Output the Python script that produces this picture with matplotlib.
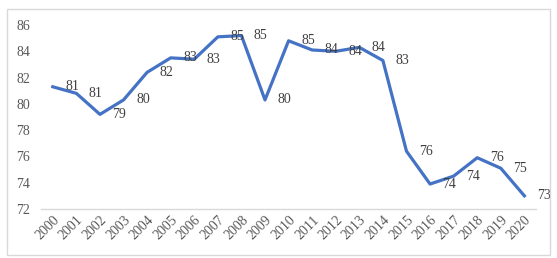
import matplotlib.pyplot as plt
from matplotlib.patches import Rectangle

years = [str(y) for y in range(2000, 2021)]
values = [81.3, 80.8, 79.2, 80.3, 82.4, 83.5, 83.4, 85.1, 85.2, 80.3,
          84.8, 84.1, 84.0, 84.3, 83.3, 76.4, 73.9, 74.5, 75.9, 75.1, 73.0]
labels = ['81', '81', '79', '80', '82', '83', '83', '85', '85', '80',
          '85', '84', '84', '84', '83', '76', '74', '74', '76', '75', '73']
y_ticks = [72, 74, 76, 78, 80, 82, 84, 86]

plt.rcParams['font.family'] = ['Liberation Serif', 'DejaVu Serif']

fig = plt.figure(figsize=(5.57, 2.58), dpi=100)
ax = fig.add_axes([0.0736, 0.19, 0.889, 0.713])

x = list(range(len(years)))
ax.plot(x, values, color='#4472C4', linewidth=2.3, solid_joinstyle='round')

for xi, v, lab in zip(x, values, labels):
    ax.annotate(lab, (xi, v), xytext=(14, 0), textcoords='offset points',
                ha='center', va='center', fontsize=10, color='#404040')

ax.set_xlim(-0.5, len(years) - 0.5)
ax.set_ylim(72, 86)
ax.set_yticks(y_ticks)
ax.set_xticks(x)
ax.set_xticklabels(years, rotation=45, ha='right', rotation_mode='anchor')
ax.tick_params(axis='both', length=0, labelsize=10, labelcolor='#595959')
ax.tick_params(axis='y', pad=8)
ax.tick_params(axis='x', pad=3)

for side in ['top', 'right', 'left']:
    ax.spines[side].set_visible(False)
ax.spines['bottom'].set_color('#D9D9D9')
ax.spines['bottom'].set_linewidth(1.0)

fig.patches.append(Rectangle((7 / 557, 3 / 258), 543 / 557, 246 / 258,
                             transform=fig.transFigure, fill=False,
                             edgecolor='#D9D9D9', linewidth=1.0))

fig.savefig('out.png', dpi=100)
